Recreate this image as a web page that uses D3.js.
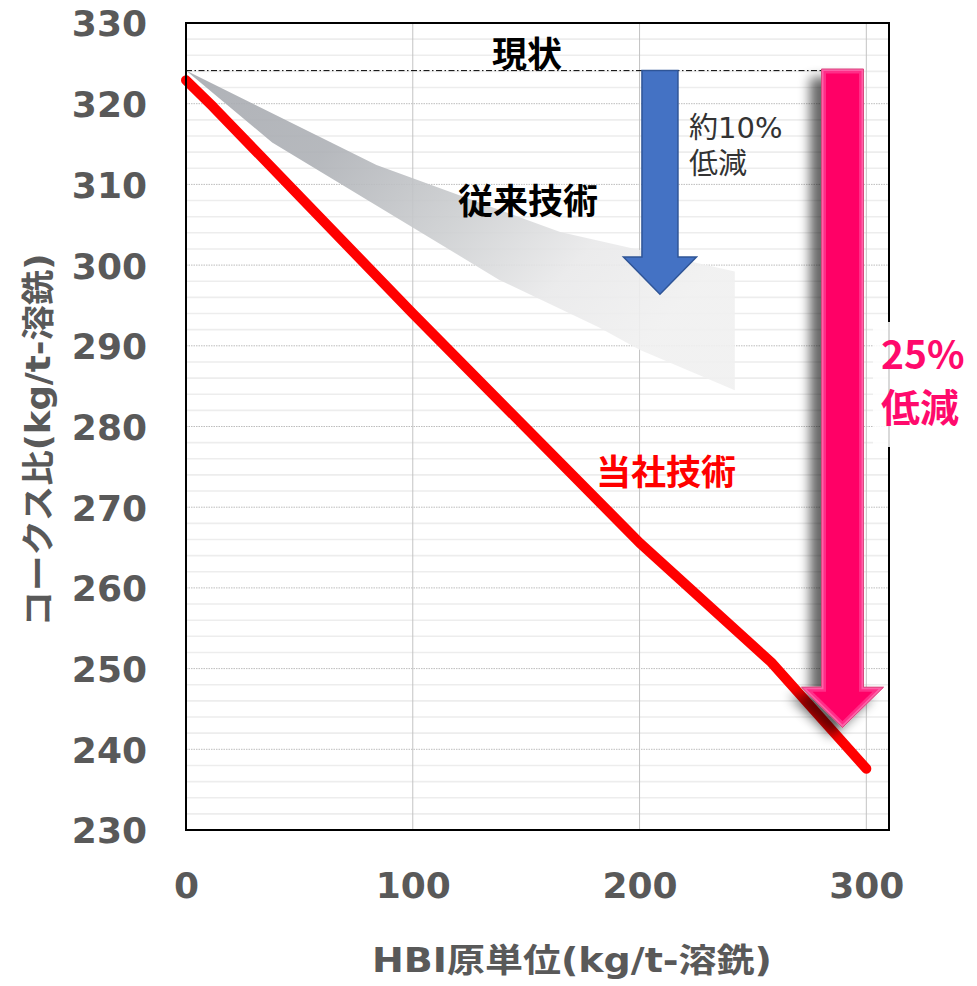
<!DOCTYPE html>
<html>
<head>
<meta charset="utf-8">
<script src="https://cdn.jsdelivr.net/npm/d3@7"></script>
<style>
  html, body { margin: 0; padding: 0; background: #fff; }
  svg { display: block; }
</style>
</head>
<body>
<svg id="chart" width="977" height="986"></svg>
<script>
// Axis ticks
const xTicks = [0, 100, 200, 300];
const yTicks = [230, 240, 250, 260, 270, 280, 290, 300, 310, 320, 330];

// Present operating coke rate (kg/t-hot metal)
const currentLevel = 324.1;

// Own technology: coke rate vs. HBI rate
const ownHbi  = [0, 12, 100, 200, 258, 300];
const ownCoke = [322.9, 319.6, 294.0, 265.6, 250.8, 237.6];

// Conventional technology: band between upper and lower edges
const convUpperHbi  = [0, 84, 165, 242];
const convUpperCoke = [324.1, 312.4, 304.1, 299.2];
const convLowerHbi  = [0, 38, 138, 182, 200, 242];
const convLowerCoke = [324.1, 315.2, 298.2, 292.3, 289.5, 284.5];

// Reduction arrows: HBI position, start, head base, tip (coke rate)
const convArrow = [209, 324.1, 301.0, 296.4];
const ownArrow  = [289.5, 324.3, 247.7, 242.7];

// Texts
const xTitle = "HBI原単位(kg/t-溶銑)";
const yTitle = "コークス比(kg/t-溶銑)";
const txtCurrent = "現状";
const txtConv = "従来技術";
const txtOwn = "当社技術";
const txtConvCut = ["約10%", "低減"];
const txtOwnCut = ["25%", "低減"];

const svg = d3.select("#chart");
const W = 977, H = 986;
const plotL = 186, plotR = 889, plotT = 23, plotB = 830;

const x = d3.scaleLinear().domain([0, 310]).range([plotL, plotR]);
const y = d3.scaleLinear().domain([230, 330]).range([plotB, plotT]);

const latin = "'DejaVu Sans', 'Noto Sans CJK JP', sans-serif";
const cjk = "'Noto Sans CJK JP', sans-serif";

// ---------- defs ----------
const defs = svg.append("defs");

const bandGrad = defs.append("linearGradient")
  .attr("id", "bandGrad")
  .attr("x1", 0).attr("y1", 0).attr("x2", 1).attr("y2", 0.55);
[[0, "#a7aab0"], [0.3, "#aeb1b6"], [0.58, "#cdcfd1"], [0.8, "#e9e9ea"], [1, "#f0f0f0"]]
  .forEach(([o, c]) => bandGrad.append("stop").attr("offset", o).attr("stop-color", c));

const shadow = defs.append("filter")
  .attr("id", "shadow")
  .attr("x", "-80%").attr("y", "-10%").attr("width", "220%").attr("height", "130%");
shadow.append("feGaussianBlur").attr("in", "SourceAlpha").attr("stdDeviation", 6);
shadow.append("feOffset").attr("dx", -11).attr("dy", 9).attr("result", "off");
shadow.append("feComponentTransfer").append("feFuncA").attr("type", "linear").attr("slope", 0.6);
const merge = shadow.append("feMerge");
merge.append("feMergeNode");
merge.append("feMergeNode").attr("in", "SourceGraphic");

// ---------- background & grid ----------
svg.append("rect").attr("width", W).attr("height", H).attr("fill", "#fff");

const grid = svg.append("g");
const minorVals = d3.range(232, 330, 2).filter(v => v % 10 !== 0);
grid.selectAll(".minor").data(minorVals).join("line")
  .attr("x1", plotL).attr("x2", plotR)
  .attr("y1", d => y(d)).attr("y2", d => y(d))
  .attr("stroke", "#ededed").attr("stroke-width", 1.6);

grid.selectAll(".major").data(yTicks.slice(1, -1)).join("line")
  .attr("x1", plotL).attr("x2", plotR)
  .attr("y1", d => y(d)).attr("y2", d => y(d))
  .attr("stroke", "#bdbdbd").attr("stroke-width", 1)
  .attr("stroke-dasharray", "1.5,1");

grid.selectAll(".vert").data(xTicks.slice(1)).join("line")
  .attr("x1", d => x(d)).attr("x2", d => x(d))
  .attr("y1", plotT).attr("y2", plotB)
  .attr("stroke", "#c3c3c3").attr("stroke-width", 1);

// ---------- conventional technology band ----------
const upper = convUpperHbi.map((h, i) => [x(h), y(convUpperCoke[i])]);
const lower = convLowerHbi.map((h, i) => [x(h), y(convLowerCoke[i])]);
const bandPts = upper.concat(lower.slice().reverse());
svg.append("path")
  .attr("d", d3.line()(bandPts) + "Z")
  .attr("fill", "url(#bandGrad)")
  .attr("fill-opacity", 0.9);

// ---------- own technology line ----------
svg.append("path")
  .datum(ownHbi.map((h, i) => [h, ownCoke[i]]))
  .attr("d", d3.line().x(d => x(d[0])).y(d => y(d[1])))
  .attr("fill", "none")
  .attr("stroke", "#ff0000")
  .attr("stroke-width", 10)
  .attr("stroke-linejoin", "round")
  .attr("stroke-linecap", "round");

// ---------- present level reference line ----------
svg.append("line")
  .attr("x1", x(0)).attr("x2", x(ownArrow[0]) - 21)
  .attr("y1", y(currentLevel)).attr("y2", y(currentLevel))
  .attr("stroke", "#000").attr("stroke-width", 1)
  .attr("stroke-dasharray", "6,2.5,1.5,2.5");

// ---------- annotation texts ----------
svg.append("text").text(txtCurrent)
  .attr("x", 527).attr("y", 51)
  .attr("text-anchor", "middle").attr("dominant-baseline", "central")
  .attr("font-family", cjk).attr("font-weight", 700).attr("font-size", 35)
  .attr("fill", "#000");

svg.append("text").text(txtConv)
  .attr("x", 528).attr("y", 198)
  .attr("text-anchor", "middle").attr("dominant-baseline", "central")
  .attr("font-family", cjk).attr("font-weight", 700).attr("font-size", 35)
  .attr("fill", "#000");

svg.append("text").text(txtOwn)
  .attr("x", 666).attr("y", 469)
  .attr("text-anchor", "middle").attr("dominant-baseline", "central")
  .attr("font-family", cjk).attr("font-weight", 700).attr("font-size", 35)
  .attr("fill", "#ff0000");

// two-line label beside the blue arrow
const convCut = svg.append("text")
  .attr("font-family", latin).attr("font-weight", 400).attr("font-size", 29)
  .attr("fill", "#333");
txtConvCut.forEach((t, i) => {
  convCut.append("tspan").text(t)
    .attr("x", 689).attr("y", 138 + i * 36);
});

// ---------- arrows ----------
function arrowPath(a, halfShaft, halfHead) {
  const cx = x(a[0]), t = y(a[1]), hb = y(a[2]), tip = y(a[3]);
  return `M${cx - halfShaft},${t}L${cx + halfShaft},${t}L${cx + halfShaft},${hb}` +
         `L${cx + halfHead},${hb}L${cx},${tip}L${cx - halfHead},${hb}L${cx - halfShaft},${hb}Z`;
}

// blue: conventional reduction
svg.append("path")
  .attr("d", arrowPath(convArrow, 18, 36.5))
  .attr("fill", "#4472c4")
  .attr("stroke", "#2f5597").attr("stroke-width", 1.5)
  .attr("stroke-linejoin", "miter");

// pink: own reduction (bevelled, with drop shadow)
const pinkD = arrowPath(ownArrow, 21, 41);
defs.append("clipPath").attr("id", "pinkClip").append("path").attr("d", pinkD);
const pink = svg.append("g").attr("filter", "url(#shadow)");
pink.append("path").attr("d", pinkD).attr("fill", "#ff0066");
pink.append("path").attr("d", pinkD)
  .attr("clip-path", "url(#pinkClip)")
  .attr("fill", "none").attr("stroke", "#ff2f88").attr("stroke-width", 9);
pink.append("path").attr("d", pinkD)
  .attr("clip-path", "url(#pinkClip)")
  .attr("fill", "none").attr("stroke", "#ff5fa8").attr("stroke-width", 4);
pink.append("path").attr("d", pinkD)
  .attr("fill", "none").attr("stroke", "#d9487f").attr("stroke-width", 1);

// ---------- plot frame ----------
svg.append("rect")
  .attr("x", plotL).attr("y", plotT)
  .attr("width", plotR - plotL).attr("height", plotB - plotT)
  .attr("fill", "none").attr("stroke", "#000").attr("stroke-width", 2);

// white panel behind the 25% label
svg.append("rect")
  .attr("x", 873).attr("y", 322).attr("width", W - 873).attr("height", 125)
  .attr("fill", "#fff").attr("fill-opacity", 0.85);

const ownCut = svg.append("text")
  .attr("font-family", cjk).attr("font-weight", 700).attr("font-size", 39)
  .attr("fill", "#ff0a6c");
txtOwnCut.forEach((t, i) => {
  ownCut.append("tspan").text(t)
    .attr("x", 881).attr("y", 369 + i * 53);
});

// ---------- axes ----------
const yAxis = svg.append("g")
  .attr("transform", `translate(${plotL},0)`)
  .call(d3.axisLeft(y).tickValues(yTicks).tickSize(0).tickFormat(d3.format("d")));
yAxis.select(".domain").remove();
yAxis.selectAll("text")
  .attr("x", -39).attr("dy", "0.36em")
  .attr("font-family", latin).attr("font-weight", 700).attr("font-size", 36)
  .attr("fill", "#595959");

const xAxis = svg.append("g")
  .attr("transform", `translate(0,${plotB})`)
  .call(d3.axisBottom(x).tickValues(xTicks).tickSize(0).tickFormat(d3.format("d")));
xAxis.select(".domain").remove();
xAxis.selectAll("text")
  .attr("y", 68).attr("dy", 0)
  .attr("font-family", latin).attr("font-weight", 700).attr("font-size", 36)
  .attr("fill", "#595959");

// axis titles
svg.append("text").text(xTitle)
  .attr("x", 572).attr("y", 960)
  .attr("text-anchor", "middle").attr("dominant-baseline", "central")
  .attr("textLength", 400).attr("lengthAdjust", "spacingAndGlyphs")
  .attr("font-family", latin).attr("font-weight", 700).attr("font-size", 33)
  .attr("fill", "#595959");

svg.append("text").text(yTitle)
  .attr("transform", "translate(38,440) rotate(-90)")
  .attr("text-anchor", "middle").attr("dominant-baseline", "central")
  .attr("textLength", 373).attr("lengthAdjust", "spacingAndGlyphs")
  .attr("font-family", latin).attr("font-weight", 700).attr("font-size", 33)
  .attr("fill", "#595959");
</script>
</body>
</html>
